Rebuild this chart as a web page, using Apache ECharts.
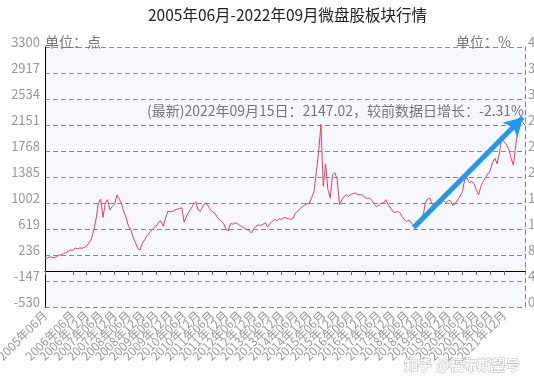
<!DOCTYPE html>
<html>
<head>
<meta charset="utf-8">
<script src="https://cdn.jsdelivr.net/npm/echarts@6/dist/echarts.min.js"></script>
<style>
html,body{margin:0;padding:0;background:#fff;}
#c{width:534px;height:391px;}
</style>
</head>
<body>
<div id="c"></div>
<script>
// ---- data (monthly) ----
var titleText = '2005年06月-2022年09月微盘股板块行情';
var startYear = 2005, startMonth = 6, monthCount = 208;
var indexValues = [
  // 2005-06 .. 2005-12
  200, 190, 210, 200, 195, 210, 230,
  // 2006
  240, 255, 270, 290, 310, 304, 335, 325, 340, 335, 350, 365,
  // 2007
  420, 470, 600, 760, 1000, 1060, 790, 1000, 1050, 900, 950, 980,
  // 2008
  1120, 1060, 990, 870, 790, 660, 610, 500, 420, 330, 310, 410,
  // 2009
  460, 520, 560, 600, 640, 660, 720, 740, 660, 780, 880, 870,
  // 2010
  880, 900, 910, 920, 930, 720, 800, 870, 920, 980, 1020, 900,
  // 2011
  880, 950, 1000, 980, 920, 880, 860, 810, 760, 740, 700, 620,
  // 2012
  590, 700, 690, 710, 700, 670, 650, 630, 610, 600, 560, 620,
  // 2013
  660, 680, 670, 690, 710, 650, 700, 730, 760, 740, 770, 760,
  // 2014
  790, 780, 770, 760, 780, 850, 880, 920, 950, 970, 990, 1000,
  // 2015
  1080, 1170, 1450, 1750, 2160, 1250, 1580, 1200, 1080, 1420, 1450, 1350,
  // 2016
  980, 1050, 1100, 1120, 1100, 1130, 1140, 1150, 1120, 1130, 1120, 1080,
  // 2017
  1070, 1075, 1040, 980, 950, 970, 1000, 1000, 1050, 980, 930, 880,
  // 2018
  860, 880, 860, 800, 760, 730, 750, 700, 680, 640, 720, 760,
  // 2019
  800, 1000, 1060, 1075, 980, 1000, 1020, 1040, 1050, 1030, 1010, 1040,
  // 2020
  1030, 960, 1000, 1050, 1100, 1170, 1340, 1370, 1300, 1320, 1290, 1200,
  // 2021
  1120, 1250, 1320, 1380, 1430, 1480, 1600, 1660, 1580, 1750, 1950, 1900,
  // 2022-01 .. 2022-09
  1860, 1800, 1660, 1560, 1850, 2100, 2230, 2190, 2147
];
var leftTicks = {min: -530, max: 3300, step: 383};
var rightTicks = {min: 0, max: 40, step: 4};
var leftName = '单位：点';
var rightName = '单位：%';
var latestNote = '(最新)2022年09月15日：2147.02，较前数据日增长：-2.31%';
var arrowFrom = {month: '2018年09月', value: 640};
var arrowTo = {month: '2022年08月', value: 2262};
var watermark = '知乎 @福布斯望号';
var labelEvery = 6;

var categories = [];
for (var i = 0; i < monthCount; i++) {
  var m = startMonth - 1 + i;
  var y = startYear + Math.floor(m / 12);
  var mm = (m % 12) + 1;
  categories.push(y + '年' + (mm < 10 ? '0' + mm : mm) + '月');
}

var FONT = '"Noto Sans CJK SC", "Noto Sans", sans-serif';
function plain(v) { return String(Math.round(v)); }
function everyHalfYear(idx) { return idx % labelEvery === 0; }

var chart = echarts.init(document.getElementById('c'), null, {renderer: 'canvas'});
chart.setOption({
  animation: false,
  backgroundColor: '#ffffff',
  title: {
    text: titleText,
    left: 143,
    top: 2,
    textStyle: {fontFamily: FONT, fontSize: 15.5, fontWeight: 'normal', color: '#222'}
  },
  grid: {
    left: 45, right: 9, top: 47, bottom: 84,
    containLabel: false,
    outerBoundsMode: 'none',
    show: true, backgroundColor: '#f6f8fe', borderWidth: 0
  },
  xAxis: {
    type: 'category',
    data: categories,
    boundaryGap: false,
    axisLine: {lineStyle: {color: '#000', width: 1}},
    axisTick: {show: true, interval: everyHalfYear, length: 4, lineStyle: {color: '#666'}},
    axisLabel: {interval: everyHalfYear, showMinLabel: true, showMaxLabel: false, rotate: 45, fontFamily: FONT, fontSize: 12, color: '#999', margin: 6, hideOverlap: false},
    splitLine: {show: false}
  },
  yAxis: [{
    type: 'value',
    min: leftTicks.min, max: leftTicks.max, interval: leftTicks.step,
    name: leftName,
    nameLocation: 'end',
    nameGap: 5,
    nameMoveOverlap: false,
    nameTextStyle: {fontFamily: FONT, fontSize: 14, color: '#777', align: 'left', verticalAlign: 'middle'},
    axisLine: {show: true, lineStyle: {color: '#000', width: 1}},
    axisTick: {show: false},
    axisLabel: {formatter: plain, fontFamily: FONT, fontSize: 13, color: '#999', margin: 5, verticalAlign: 'bottom', lineHeight: 10, hideOverlap: false},
    splitLine: {show: true, lineStyle: {color: '#888', type: [5, 3], width: 1}}
  }, {
    type: 'value',
    position: 'right',
    min: rightTicks.min, max: rightTicks.max, interval: rightTicks.step,
    name: rightName,
    nameLocation: 'end',
    nameGap: 5,
    nameMoveOverlap: false,
    nameTextStyle: {fontFamily: FONT, fontSize: 14, color: '#777', align: 'right', verticalAlign: 'middle', padding: [0, 14, 0, 0]},
    axisLine: {show: true, lineStyle: {color: '#888', type: [5, 3], width: 1}},
    axisTick: {show: false},
    axisLabel: {formatter: plain, fontFamily: FONT, fontSize: 13, color: '#999', margin: 3, verticalAlign: 'bottom', lineHeight: 10, hideOverlap: false},
    splitLine: {show: false}
  }],
  graphic: [{
    type: 'text',
    right: 10,
    top: 104,
    style: {text: latestNote, font: '14px ' + FONT, fill: '#777'}
  }, {
    type: 'text',
    right: 14,
    top: 357,
    z: 100,
    style: {text: watermark, font: 'bold 14px ' + FONT, fill: '#ffffff', stroke: '#b8b8b8', lineWidth: 1}
  }],
  series: [{
    type: 'line',
    yAxisIndex: 0,
    data: indexValues,
    showSymbol: false,
    symbol: 'none',
    lineStyle: {color: '#e0425e', width: 1},
    markLine: {
      silent: true,
      symbol: ['none', 'arrow'],
      symbolSize: [16, 18],
      label: {show: false},
      lineStyle: {color: '#2196f3', width: 5, type: 'solid'},
      data: [[
        {coord: [arrowFrom.month, arrowFrom.value]},
        {coord: [arrowTo.month, arrowTo.value]}
      ]]
    }
  }]
});
</script>
</body>
</html>
